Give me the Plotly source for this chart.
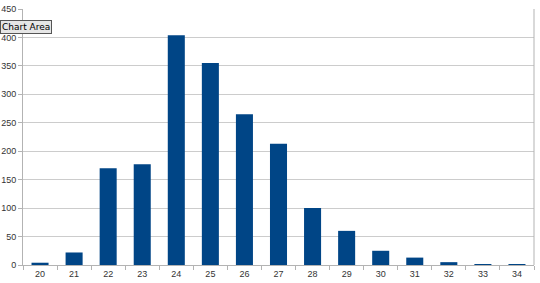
import plotly.graph_objects as go

categories = ["20", "21", "22", "23", "24", "25", "26", "27", "28", "29", "30", "31", "32", "33", "34"]
values = [4, 22, 170, 177, 404, 355, 265, 213, 100, 60, 25, 13, 5, 1, 1]
y_ticks = [0, 50, 100, 150, 200, 250, 300, 350, 400, 450]

fig = go.Figure(go.Bar(x=categories, y=values, marker=dict(color="#004586", line_width=0), width=0.5))

fig.update_layout(
    width=540, height=283,
    margin=dict(l=23, r=6, t=9, b=18),
    paper_bgcolor="white", plot_bgcolor="white",
    font=dict(family="Liberation Sans, Arial, sans-serif", size=9, color="#333"),
    showlegend=False,
    xaxis=dict(type="category", tickson="boundaries", ticks="outside", ticklen=4,
               tickcolor="#b3b3b3", showgrid=False, showline=True, linecolor="#b3b3b3",
               mirror=False, range=[-0.5, 14.5], automargin=False),
    yaxis=dict(range=[0, 450], tickvals=y_ticks, ticks="outside", ticklen=4,
               tickcolor="#b3b3b3", gridcolor="#cccccc", showline=True, linecolor="#b3b3b3",
               zeroline=False, automargin=False),
    shapes=[dict(type="line", xref="paper", yref="paper", x0=1, x1=1, y0=0, y1=1,
                 line=dict(color="#b3b3b3", width=1))],
    annotations=[dict(text="Chart Area", xref="paper", yref="paper", x=-23/511, y=(264.5-26)/256,
                      xanchor="left", yanchor="middle", showarrow=False,
                      font=dict(size=9, color="#000", family="DejaVu Sans, sans-serif"),
                      bgcolor="#e6e6e6", bordercolor="#555", borderwidth=1, borderpad=1)],
)

fig.write_html("out.html")
